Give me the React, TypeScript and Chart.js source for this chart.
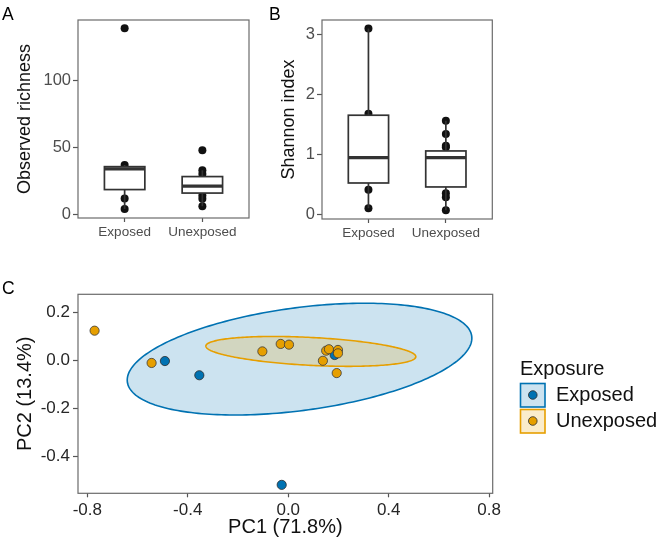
import React, { useEffect, useRef } from 'react';
import { Chart, registerables } from 'chart.js';

Chart.register(...registerables);

const FONT = '"Liberation Sans", Arial, Helvetica, sans-serif';

const groups = ['Exposed', 'Unexposed'];

// Observed richness: box summaries [lower whisker, Q1, median, Q3, upper whisker]
const richnessExposedBox = [4.2, 18.7, 34.1, 35.8, 37];
const richnessUnexposedBox = [6.2, 16.1, 21.3, 28.4, 33.1];
const richnessExposed = [139, 37, 12.1, 4.2];
const richnessUnexposed = [48.1, 33.1, 30.4, 14.3, 11.9, 6.2];
const richnessTicks = [0, 50, 100];

// Shannon index
const shannonExposedBox = [0.106, 0.527, 0.948, 1.654, 3.095];
const shannonUnexposedBox = [0.073, 0.461, 0.948, 1.06, 1.564];
const shannonExposed = [3.095, 1.68, 0.416, 0.106];
const shannonUnexposed = [1.564, 1.343, 1.148, 1.12, 0.356, 0.29, 0.073];
const shannonTicks = [0, 1, 2, 3];

// PCA scores
const exposedPC1 = [-0.491, -0.354, -0.026, 0.185];
const exposedPC2 = [-0.003, -0.062, -0.517, 0.022];
const unexposedPC1 = [-0.771, -0.544, -0.103, -0.03, 0.003, 0.138, 0.151, 0.162, 0.198, 0.198, 0.193];
const unexposedPC2 = [0.123, -0.011, 0.037, 0.068, 0.065, -0.002, 0.04, 0.046, 0.043, 0.029, -0.053];
const pc1Ticks = [-0.8, -0.4, 0, 0.4, 0.8];
const pc2Ticks = [-0.4, -0.2, 0, 0.2];

// Confidence ellipses: [centre PC1, centre PC2, PC1 half-extent, PC2 half-extent, correlation]
const exposedEllipse = [0.045, 0.005, 0.686, 0.232, 0.375];
const unexposedEllipse = [0.09, 0.037, 0.418, 0.062, -0.355];

const BLUE = '#0072B2';
const ORANGE = '#E69F00';
const BLUE_FILL = 'rgba(0,114,178,0.2)';
const ORANGE_FILL = 'rgba(230,159,0,0.2)';
const BOX_WIDTH = 0.52;

type BoxPanelOpts = {
  boxes: number[][];
  points: number[][];
  ticks: number[];
  yMin: number;
  yMax: number;
  yTitle: string;
  letter: string;
  padTop: number;
  padRight: number;
  yAxisW: number;
  xAxisH: number;
  titleX: number;
  letterX: number;
};

function boxPanelConfig(o: BoxPanelOpts): any {
  const boxes = {
    id: 'boxes',
    afterDatasetsDraw(chart: any) {
      const { ctx } = chart;
      const xs = chart.scales.x;
      const ys = chart.scales.y;
      ctx.save();
      ctx.strokeStyle = '#333333';
      o.boxes.forEach((b, i) => {
        const cx = xs.getPixelForValue(i + 1);
        const half = xs.getPixelForValue(i + 1 + BOX_WIDTH / 2) - cx;
        const [lo, q1, med, q3, hi] = b.map((v) => ys.getPixelForValue(v));
        ctx.lineWidth = 1.7;
        ctx.beginPath();
        ctx.moveTo(cx, lo);
        ctx.lineTo(cx, q1);
        ctx.moveTo(cx, q3);
        ctx.lineTo(cx, hi);
        ctx.stroke();
        ctx.fillStyle = '#ffffff';
        ctx.fillRect(cx - half, q3, 2 * half, q1 - q3);
        ctx.strokeRect(cx - half, q3, 2 * half, q1 - q3);
        ctx.lineWidth = 3.2;
        ctx.beginPath();
        ctx.moveTo(cx - half, med);
        ctx.lineTo(cx + half, med);
        ctx.stroke();
      });
      ctx.restore();
    },
    afterDraw(chart: any) {
      const { ctx, chartArea: a } = chart;
      ctx.save();
      ctx.strokeStyle = '#6b6b6b';
      ctx.lineWidth = 1.2;
      ctx.strokeRect(a.left, a.top, a.right - a.left, a.bottom - a.top);
      ctx.fillStyle = '#111111';
      ctx.font = `18px ${FONT}`;
      ctx.textAlign = 'center';
      ctx.textBaseline = 'middle';
      ctx.translate(o.titleX, (a.top + a.bottom) / 2);
      ctx.rotate(-Math.PI / 2);
      ctx.fillText(o.yTitle, 0, 0);
      ctx.restore();
      ctx.save();
      ctx.fillStyle = '#000000';
      ctx.font = `17.5px ${FONT}`;
      ctx.textAlign = 'left';
      ctx.textBaseline = 'alphabetic';
      ctx.fillText(o.letter, o.letterX, 20);
      ctx.restore();
    },
  };

  return {
    type: 'scatter',
    data: {
      datasets: o.points.map((vals, i) => ({
        data: vals.map((v) => ({ x: i + 1, y: v })),
        backgroundColor: '#111111',
        borderColor: '#111111',
        borderWidth: 0,
        pointRadius: 4,
      })),
    },
    options: {
      animation: false,
      responsive: false,
      devicePixelRatio: 1,
      layout: { padding: { left: 0, top: o.padTop, right: o.padRight, bottom: 0 } },
      plugins: { legend: { display: false }, tooltip: { enabled: false } },
      scales: {
        x: {
          type: 'linear',
          min: 0.4,
          max: 2.6,
          afterBuildTicks: (s: any) => {
            s.ticks = [{ value: 1 }, { value: 2 }];
          },
          afterFit: (s: any) => {
            s.height = o.xAxisH;
          },
          ticks: {
            callback: (v: number) => groups[Math.round(v) - 1],
            font: { family: FONT, size: 13.5 },
            color: '#4d4d4d',
            padding: 2,
            maxRotation: 0,
            autoSkip: false,
          },
          grid: { display: true, drawOnChartArea: false, drawTicks: true, tickLength: 4, tickColor: '#555555', tickWidth: 1.2 },
          border: { display: false },
        },
        y: {
          type: 'linear',
          min: o.yMin,
          max: o.yMax,
          afterBuildTicks: (s: any) => {
            s.ticks = o.ticks.map((v) => ({ value: v }));
          },
          afterFit: (s: any) => {
            s.width = o.yAxisW;
          },
          ticks: {
            callback: (v: number) => String(v),
            font: { family: FONT, size: 16.5 },
            color: '#4d4d4d',
            padding: 2,
            autoSkip: false,
          },
          grid: { display: true, drawOnChartArea: false, drawTicks: true, tickLength: 5, tickColor: '#555555', tickWidth: 1.2 },
          border: { display: false },
        },
      },
    },
    plugins: [boxes],
  };
}

function ellipsePoints(e: number[], n = 240) {
  const [cx, cy, ax, ay, r] = e;
  const s = Math.sqrt(1 - r * r);
  const pts: { x: number; y: number }[] = [];
  for (let k = 0; k <= n; k++) {
    const t = (2 * Math.PI * k) / n;
    pts.push({ x: cx + ax * Math.cos(t), y: cy + ay * (r * Math.cos(t) + s * Math.sin(t)) });
  }
  return pts;
}

function pcaConfig(): any {
  const decor = {
    id: 'pcaDecor',
    beforeDatasetsDraw(chart: any) {
      const { ctx } = chart;
      const xs = chart.scales.x;
      const ys = chart.scales.y;
      const shapes: [number[], string, string][] = [
        [exposedEllipse, BLUE_FILL, BLUE],
        [unexposedEllipse, ORANGE_FILL, ORANGE],
      ];
      ctx.save();
      shapes.forEach(([e, fill, stroke]) => {
        const pts = ellipsePoints(e);
        ctx.beginPath();
        pts.forEach((p, i) => {
          const px = xs.getPixelForValue(p.x);
          const py = ys.getPixelForValue(p.y);
          if (i === 0) ctx.moveTo(px, py);
          else ctx.lineTo(px, py);
        });
        ctx.closePath();
        ctx.fillStyle = fill;
        ctx.fill();
        ctx.strokeStyle = stroke;
        ctx.lineWidth = 1.6;
        ctx.stroke();
      });
      ctx.restore();
    },
    afterDraw(chart: any) {
      const { ctx, chartArea: a } = chart;
      ctx.save();
      ctx.strokeStyle = '#6b6b6b';
      ctx.lineWidth = 1.2;
      ctx.strokeRect(a.left, a.top, a.right - a.left, a.bottom - a.top);

      // axis titles
      ctx.fillStyle = '#111111';
      ctx.font = `20px ${FONT}`;
      ctx.textAlign = 'center';
      ctx.textBaseline = 'middle';
      ctx.fillText('PC1 (71.8%)', (a.left + a.right) / 2, 257);
      ctx.save();
      ctx.translate(25, (a.top + a.bottom) / 2);
      ctx.rotate(-Math.PI / 2);
      ctx.fillText('PC2 (13.4%)', 0, 0);
      ctx.restore();

      // panel letter
      ctx.fillStyle = '#000000';
      ctx.font = `17.5px ${FONT}`;
      ctx.textAlign = 'left';
      ctx.textBaseline = 'alphabetic';
      ctx.fillText('C', 2, 23.5);

      // legend
      ctx.font = `20px ${FONT}`;
      ctx.textBaseline = 'middle';
      ctx.fillStyle = '#111111';
      ctx.fillText('Exposure', 520, 99);
      const entries: [string, string, string][] = [
        [groups[0], BLUE_FILL, BLUE],
        [groups[1], ORANGE_FILL, ORANGE],
      ];
      entries.forEach(([label, fill, stroke], i) => {
        const top = 113 + i * 26;
        ctx.fillStyle = '#ffffff';
        ctx.fillRect(520, top, 25, 24);
        ctx.fillStyle = fill;
        ctx.fillRect(520, top, 25, 24);
        ctx.strokeStyle = stroke;
        ctx.lineWidth = 1.6;
        ctx.strokeRect(520.5, top + 0.5, 24.5, 23.5);
        ctx.beginPath();
        ctx.arc(532.8, top + 12, 4.3, 0, Math.PI * 2);
        ctx.fillStyle = stroke;
        ctx.fill();
        ctx.strokeStyle = '#2b2b2b';
        ctx.lineWidth = 0.8;
        ctx.stroke();
        ctx.fillStyle = '#111111';
        ctx.fillText(label, 556, top + 12.5);
      });
      ctx.restore();
    },
  };

  const toPts = (xs: number[], ys: number[]) => xs.map((x, i) => ({ x, y: ys[i] }));

  return {
    type: 'scatter',
    data: {
      datasets: [
        {
          label: groups[1],
          data: toPts(unexposedPC1, unexposedPC2),
          backgroundColor: ORANGE,
          borderColor: '#3a3a3a',
          borderWidth: 0.8,
          pointRadius: 4.6,
        },
        {
          label: groups[0],
          data: toPts(exposedPC1, exposedPC2),
          backgroundColor: BLUE,
          borderColor: '#2b2b2b',
          borderWidth: 0.8,
          pointRadius: 4.6,
        },
      ],
    },
    options: {
      animation: false,
      responsive: false,
      devicePixelRatio: 1,
      layout: { padding: { left: 0, top: 24.3, right: 168.3, bottom: 0 } },
      plugins: { legend: { display: false }, tooltip: { enabled: false } },
      scales: {
        x: {
          type: 'linear',
          min: -0.837,
          max: 0.814,
          afterBuildTicks: (s: any) => {
            s.ticks = pc1Ticks.map((v) => ({ value: v }));
          },
          afterFit: (s: any) => {
            s.height = 49.7;
          },
          ticks: {
            callback: (v: number) => v.toFixed(1),
            font: { family: FONT, size: 17 },
            color: '#262626',
            padding: 3,
            maxRotation: 0,
            autoSkip: false,
          },
          grid: { display: true, drawOnChartArea: false, drawTicks: true, tickLength: 4, tickColor: '#555555', tickWidth: 1.2 },
          border: { display: false },
        },
        y: {
          type: 'linear',
          min: -0.552,
          max: 0.274,
          afterBuildTicks: (s: any) => {
            s.ticks = pc2Ticks.map((v) => ({ value: v }));
          },
          afterFit: (s: any) => {
            s.width = 78;
          },
          ticks: {
            callback: (v: number) => v.toFixed(1),
            font: { family: FONT, size: 17 },
            color: '#262626',
            padding: 3,
            autoSkip: false,
          },
          grid: { display: true, drawOnChartArea: false, drawTicks: true, tickLength: 5, tickColor: '#555555', tickWidth: 1.2 },
          border: { display: false },
        },
      },
    },
    plugins: [decor],
  };
}

function ChartCanvas({ left, top, width, height, make }: { left: number; top: number; width: number; height: number; make: () => any }) {
  const ref = useRef<HTMLCanvasElement>(null);
  useEffect(() => {
    const chart = new Chart(ref.current as HTMLCanvasElement, make());
    return () => chart.destroy();
  }, []);
  return (
    <div style={{ position: 'absolute', left, top, width, height }}>
      <canvas ref={ref} width={width} height={height} style={{ width, height, display: 'block' }} />
    </div>
  );
}

export default function App() {
  return (
    <div style={{ position: 'absolute', left: 0, top: 0, width: 661, height: 543, background: '#ffffff' }}>
      <ChartCanvas
        left={0}
        top={0}
        width={260}
        height={250}
        make={() =>
          boxPanelConfig({
            boxes: [richnessExposedBox, richnessUnexposedBox],
            points: [richnessExposed, richnessUnexposed],
            ticks: richnessTicks,
            yMin: -2.5,
            yMax: 145.2,
            yTitle: 'Observed richness',
            letter: 'A',
            padTop: 20,
            padRight: 11,
            yAxisW: 78,
            xAxisH: 32,
            titleX: 25,
            letterX: 2,
          })
        }
      />
      <ChartCanvas
        left={260}
        top={0}
        width={260}
        height={250}
        make={() =>
          boxPanelConfig({
            boxes: [shannonExposedBox, shannonUnexposedBox],
            points: [shannonExposed, shannonUnexposed],
            ticks: shannonTicks,
            yMin: -0.072,
            yMax: 3.238,
            yTitle: 'Shannon index',
            letter: 'B',
            padTop: 20,
            padRight: 27.7,
            yAxisW: 62,
            xAxisH: 31,
            titleX: 29,
            letterX: 9,
          })
        }
      />
      <ChartCanvas left={0} top={270} width={661} height={273} make={pcaConfig} />
    </div>
  );
}
